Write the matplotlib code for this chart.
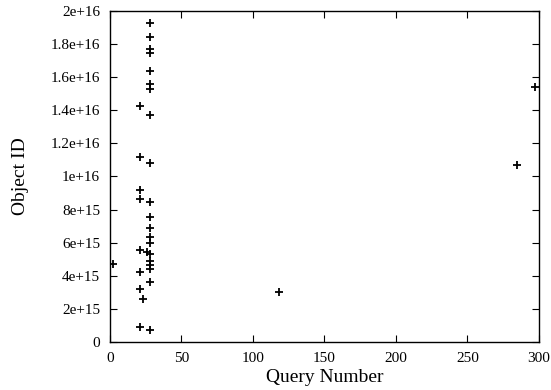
import matplotlib
matplotlib.use('Agg')
import matplotlib.pyplot as plt
from matplotlib.ticker import FuncFormatter, MultipleLocator

plt.rcParams['font.family'] = ['Liberation Serif', 'DejaVu Serif']

# query number vs object id (in units of 1e15)
query = [28, 28, 28, 28, 28, 28, 28, 21, 28, 21, 28,
         21, 21, 28, 28, 28, 28, 28, 21, 25.6, 28, 28, 28, 28,
         2.3, 21, 28, 21, 22.8, 21, 28,
         118, 285, 297]
obj_e15 = [19.26, 18.45, 17.69, 17.48, 16.39, 15.59, 15.27, 14.26, 13.70, 11.20, 10.80,
           9.17, 8.62, 8.44, 7.55, 6.91, 6.34, 5.96, 5.58, 5.46, 5.30, 4.89, 4.65, 4.41,
           4.73, 4.21, 3.64, 3.20, 2.58, 0.91, 0.74,
           3.04, 10.70, 15.43]
obj_id = [v * 1e15 for v in obj_e15]

fig = plt.figure(figsize=(5.51, 3.90), dpi=100)
ax = fig.add_axes([0.1996, 0.123, 0.7784, 0.849])

ax.plot(query, obj_id, '+', color='black', markersize=6, markeredgewidth=1.3)

ax.set_xlim(0, 300)
ax.set_ylim(0, 2e16)
ax.xaxis.set_major_locator(MultipleLocator(50))
ax.yaxis.set_major_locator(MultipleLocator(2e15))
ax.yaxis.set_major_formatter(FuncFormatter(lambda v, p: '%g' % v))
ax.tick_params(direction='in', top=True, right=True, length=5, width=0.8,
               labelsize=11, pad=7)
for s in ax.spines.values():
    s.set_linewidth(1.0)

ax.set_xlabel('Query Number', fontsize=14, labelpad=3)
ax.set_ylabel('Object ID', fontsize=14, labelpad=16)

fig.savefig('out.png', dpi=100)
